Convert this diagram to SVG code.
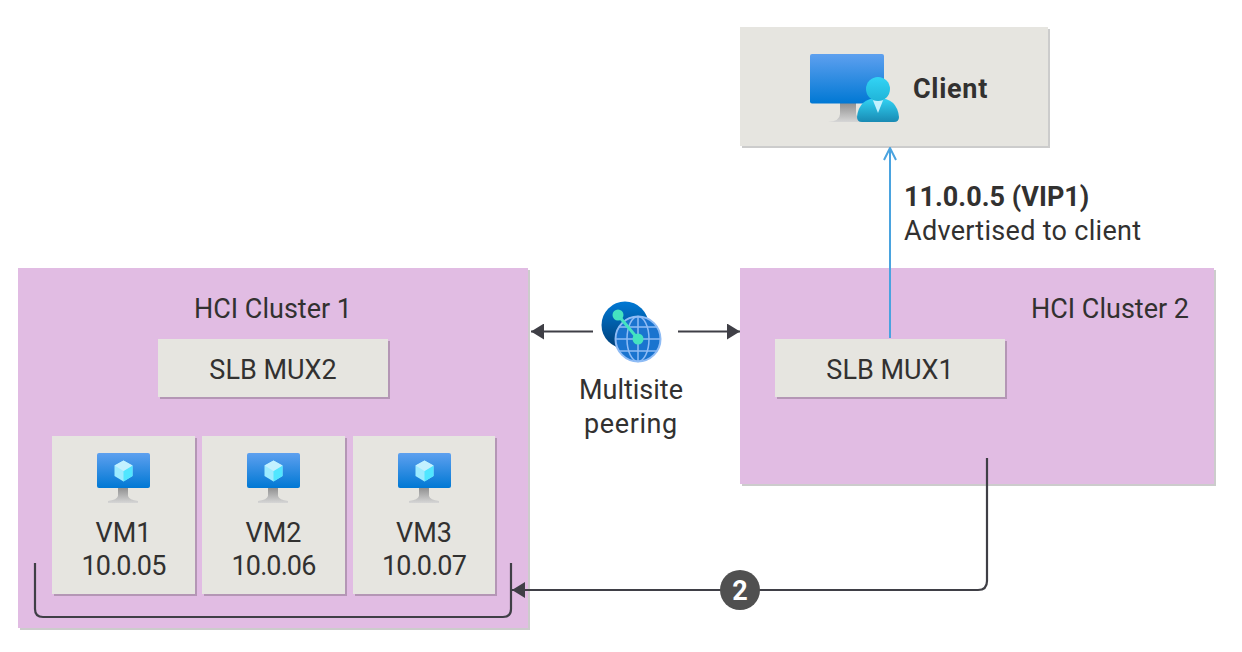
<svg xmlns="http://www.w3.org/2000/svg" width="1242" height="652" viewBox="0 0 1242 652">
<style>
text{font-family:Roboto,"Noto Sans","Liberation Sans",sans-serif;font-size:27px;fill:#323130}
.m{text-anchor:middle}
.b{font-weight:700}
.num{letter-spacing:-.9px}
.cluster{fill:#e1bce3}
.box{fill:#e6e5e0}
.sh{fill:#000;fill-opacity:.2}
.dk{fill:none;stroke:#3f3f46;stroke-width:2.200}
</style>
<defs>
<linearGradient id="scr" x1="0" y1="0" x2="0" y2="1"><stop offset="0" stop-color="#5ea0ef"/><stop offset="1" stop-color="#0078d4"/></linearGradient>
<linearGradient id="std" x1="0" y1="0" x2="0" y2="1"><stop offset="0" stop-color="#8c8c8c"/><stop offset="1" stop-color="#d6d6d6"/></linearGradient>
<linearGradient id="per" x1="0" y1="0" x2="0" y2="1"><stop offset="0" stop-color="#32d4f5"/><stop offset="1" stop-color="#198ab3"/></linearGradient>
<linearGradient id="hd" x1="0" y1="0" x2="0" y2="1"><stop offset="0" stop-color="#32d4f5"/><stop offset="1" stop-color="#20b4d8"/></linearGradient>
<linearGradient id="pk" x1="0" y1="0" x2="0" y2="1"><stop offset="0" stop-color="#0078d4"/><stop offset="1" stop-color="#003f78"/></linearGradient>
<marker id="solid" markerUnits="userSpaceOnUse" markerWidth="14" markerHeight="16" refX="13" refY="8" orient="auto"><path d="M0 0L13 8L0 16Z" fill="#3f3f46"/></marker>
<marker id="open" markerUnits="userSpaceOnUse" markerWidth="14" markerHeight="16" refX="13" refY="7" orient="auto"><path d="M1 1L13 7L1 13" fill="none" stroke="#4aa3df" stroke-width="2"/></marker>
<g id="vmicon">
<path d="M21 34h10v9q1 4 10 5v2H11v-2q9-1 10-5Z" fill="url(#std)"/>
<rect x="0" y="0" width="53" height="35" rx="2" fill="url(#scr)"/>
<path d="M26.500 7.500L35.500 12.500V23L26.500 28.500L17.500 23V12.500Z" fill="#9cebff"/>
<path d="M26.500 18L35.500 12.500V23L26.500 28.500Z" fill="#50e6ff"/>
<path d="M26.500 18L17.500 12.500L26.500 7.500L35.500 12.500Z" fill="#c3f1ff"/>
</g>
</defs>

<g id="client">
<rect class="sh" x="742" y="29" width="308" height="119"/>
<rect class="box" x="740" y="27" width="308" height="119"/>
<path d="M840 102h16v12q1 7 14 8H828q12-1 12-8Z" fill="url(#std)"/>
<rect x="810" y="54" width="74" height="49.500" rx="2" fill="url(#scr)"/>
<path d="M857 117q2-19 21-19t21 19q0 5-5 5H862q-5 0-5-5Z" fill="url(#per)"/>
<path d="M872 98h12l-6 15Z" fill="#c3f1ff"/>
<circle cx="878" cy="89" r="12" fill="url(#hd)"/>
<text class="b" x="913" y="98" style="letter-spacing:.7px">Client</text>
</g>

<g id="cluster1">
<rect class="sh" x="20" y="270" width="510" height="360"/>
<rect class="cluster" x="18" y="268" width="510" height="360"/>
<text class="m" x="273" y="318">HCI Cluster 1</text>
</g>
<g id="cluster2">
<rect class="sh" x="742" y="270" width="474" height="216"/>
<rect class="cluster" x="740" y="268" width="474" height="216"/>
<text x="1189" y="318" text-anchor="end">HCI Cluster 2</text>
</g>

<g id="mux2">
<rect class="sh" x="160" y="341" width="230" height="58"/>
<rect class="box" x="158" y="339" width="230" height="58"/>
<text class="m" x="273" y="379">SLB MUX2</text>
</g>
<g id="mux1">
<rect class="sh" x="777" y="341" width="230" height="58"/>
<rect class="box" x="775" y="339" width="230" height="58"/>
<text class="m" x="890" y="379">SLB MUX1</text>
</g>

<g id="vm1">
<rect class="sh" x="54" y="438" width="143" height="158"/>
<rect class="box" x="52" y="436" width="143" height="158"/>
<use href="#vmicon" x="97" y="453"/>
<text class="m" x="123.500" y="542">VM1</text>
<text class="m num" x="123.500" y="575">10.0.05</text>
</g>
<g id="vm2">
<rect class="sh" x="204" y="438" width="143" height="158"/>
<rect class="box" x="202" y="436" width="143" height="158"/>
<use href="#vmicon" x="247" y="453"/>
<text class="m" x="273.500" y="542">VM2</text>
<text class="m num" x="273.500" y="575">10.0.06</text>
</g>
<g id="vm3">
<rect class="sh" x="355" y="438" width="142" height="158"/>
<rect class="box" x="353" y="436" width="142" height="158"/>
<use href="#vmicon" x="398" y="453"/>
<text class="m" x="424" y="542">VM3</text>
<text class="m num" x="424" y="575">10.0.07</text>
</g>

<g id="peering">
<circle cx="625" cy="325" r="23.500" fill="url(#pk)"/>
<circle cx="638" cy="339" r="22.500" fill="#1a74cf" stroke="#8fbcf5" stroke-width="2"/>
<g fill="none" stroke="#8fbcf5" stroke-width="1.500">
<ellipse cx="638" cy="339" rx="11" ry="22.500"/>
<path d="M638 316.500V361.500M615.500 339H660.500M619 327H657M619 351H657"/>
</g>
<path d="M618 315L638 339" stroke="#45e3c0" stroke-width="3"/>
<circle cx="618" cy="315" r="5.500" fill="#45e3c0"/>
<circle cx="638" cy="339" r="5.500" fill="#45e3c0"/>
<text class="m" x="631" y="399">Multisite</text>
<text class="m" x="631" y="433" style="letter-spacing:.6px">peering</text>
</g>

<g id="connectors">
<path class="dk" d="M593 331.500H531" marker-end="url(#solid)"/>
<path class="dk" d="M678 331.500H740" marker-end="url(#solid)"/>
<path d="M890 338V148" fill="none" stroke="#4aa3df" stroke-width="2" marker-end="url(#open)"/>
<path class="dk" d="M987 458V581q0 9-9 9H512" marker-end="url(#solid)"/>
<path class="dk" d="M35 563V609q0 8 8 8H503q8 0 8-8V563"/>
</g>

<g id="vip-label">
<text class="b" x="904" y="206">11.0.0.5 (VIP1)</text>
<text x="904" y="240" style="letter-spacing:.3px">Advertised to client</text>
</g>
<g id="step2">
<circle cx="740" cy="590" r="20" fill="#505050"/>
<text class="m b" x="740" y="600" style="fill:#fff">2</text>
</g>
</svg>
